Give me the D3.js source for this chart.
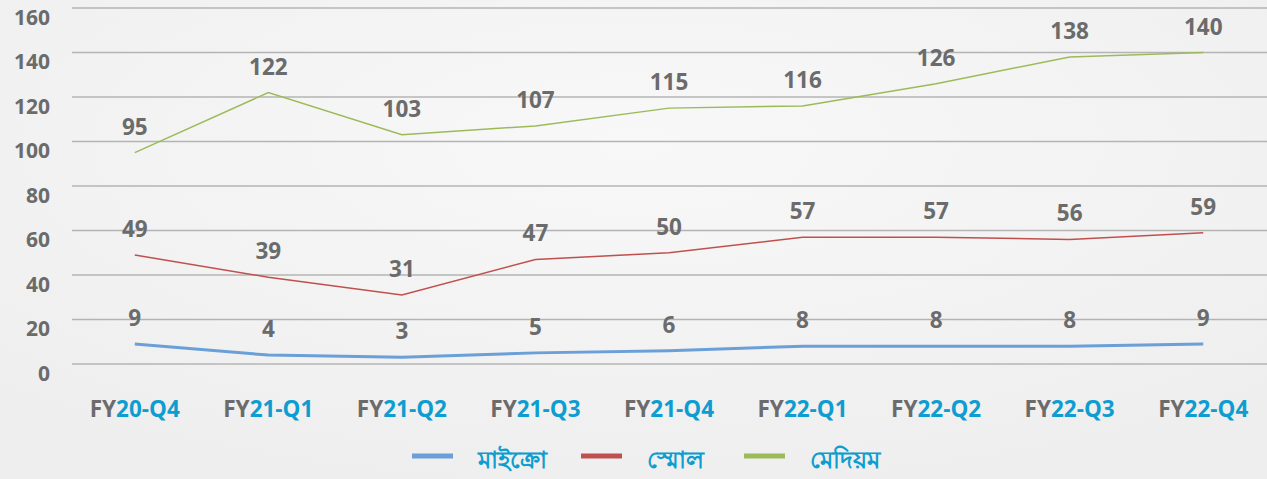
<!DOCTYPE html>
<html>
<head>
<meta charset="utf-8">
<script src="https://cdn.jsdelivr.net/npm/d3@7"></script>
<style>
  body { margin: 0; background: #f4f4f4; }
  svg { display: block; font-family: "Open Sans", sans-serif; }
</style>
</head>
<body>
<div id="chart"></div>
<script>
const categories = ["20-Q4", "21-Q1", "21-Q2", "21-Q3", "21-Q4", "22-Q1", "22-Q2", "22-Q3", "22-Q4"];
const micro = [9, 4, 3, 5, 6, 8, 8, 8, 9];
const small = [49, 39, 31, 47, 50, 57, 57, 56, 59];
const medium = [95, 122, 103, 107, 115, 116, 126, 138, 140];
const yTicks = [0, 20, 40, 60, 80, 100, 120, 140, 160];
const seriesNames = ["মাইক্রো", "স্মোল", "মেদিয়ম"];

const width = 1267;
const height = 479;
const series = [
  { name: seriesNames[0], values: micro, color: "#6a9fd8", stroke: 3 },
  { name: seriesNames[1], values: small, color: "#c0504d", stroke: 1.5 },
  { name: seriesNames[2], values: medium, color: "#9bbb59", stroke: 1.5 }
];

const svg = d3.select("#chart").append("svg")
  .attr("width", width)
  .attr("height", height);

const defs = svg.append("defs");
const grad = defs.append("radialGradient").attr("id", "bg")
  .attr("cx", "50%").attr("cy", "30%").attr("r", "75%");
grad.append("stop").attr("offset", "0%").attr("stop-color", "#f8f8f8");
grad.append("stop").attr("offset", "100%").attr("stop-color", "#eeeeee");
svg.append("rect").attr("width", width).attr("height", height).attr("fill", "url(#bg)");

const x = d3.scalePoint().domain(categories).range([68, 1270]).padding(0.5);
const y = d3.scaleLinear().domain([0, 160]).range([364, 8]);

// gridlines
svg.append("g").selectAll("line").data(yTicks).join("line")
  .attr("x1", 72).attr("x2", width)
  .attr("y1", d => y(d)).attr("y2", d => y(d))
  .attr("stroke", "#b4b4b4").attr("stroke-width", 1.5);

// y tick labels
svg.append("g").selectAll("text").data(yTicks).join("text")
  .attr("x", 50).attr("y", d => y(d) + 11)
  .attr("text-anchor", "end").attr("dominant-baseline", "middle")
  .attr("font-size", 21).attr("font-weight", "bold").attr("fill", "#6b6b6b")
  .text(d => d);

// x labels
const xl = svg.append("g").selectAll("text").data(categories).join("text")
  .attr("x", d => x(d)).attr("y", 411)
  .attr("text-anchor", "middle").attr("dominant-baseline", "middle")
  .attr("font-size", 22.5).attr("font-weight", "bold");
xl.append("tspan").attr("fill", "#6b6b6b").text("FY");
xl.append("tspan").attr("fill", "#0e9dd0").text(d => d);

// lines
const line = d3.line()
  .x((d, i) => x(categories[i]))
  .y(d => y(d));

series.forEach(s => {
  svg.append("path")
    .datum(s.values)
    .attr("d", line)
    .attr("fill", "none")
    .attr("stroke", s.color)
    .attr("stroke-width", s.stroke);

  svg.append("g").selectAll("text").data(s.values).join("text")
    .attr("x", (d, i) => x(categories[i]))
    .attr("y", d => y(d) - 24)
    .attr("text-anchor", "middle").attr("dominant-baseline", "middle")
    .attr("font-size", 22.5).attr("font-weight", "bold").attr("fill", "#6b6b6b")
    .text(d => d);
});

// legend
const legendX = [412, 581, 744];
const legend = svg.append("g").selectAll("g").data(series).join("g")
  .attr("transform", (d, i) => `translate(${legendX[i]},456)`);
legend.append("line")
  .attr("x1", 0).attr("x2", 41).attr("y1", 0).attr("y2", 0)
  .attr("stroke", d => d.color).attr("stroke-width", 5);
legend.append("text")
  .attr("x", 66).attr("y", 6)
  .attr("dominant-baseline", "middle")
  .attr("font-size", 24).attr("font-weight", "bold").attr("fill", "#0e9dd0")
  .text(d => d.name);
</script>
</body>
</html>
